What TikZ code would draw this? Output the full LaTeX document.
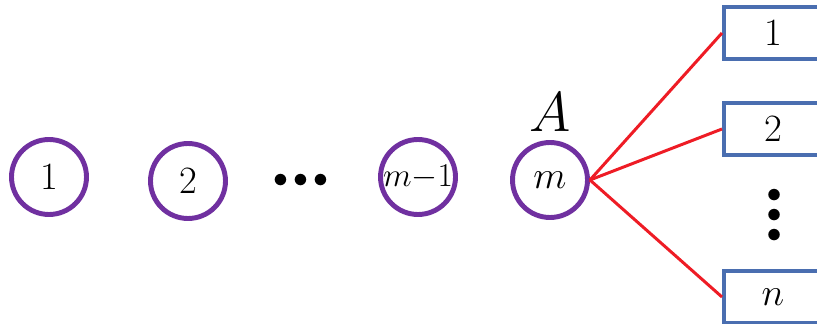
\documentclass[tikz,border=0pt]{standalone}
\usepackage{fix-cm}
\usepackage{tikz}
\usetikzlibrary{positioning}
\definecolor{vio}{HTML}{7030A0}
\definecolor{boxblue}{HTML}{4A6EB0}
\definecolor{edgered}{HTML}{EE1C25}

\begin{document}
\begin{tikzpicture}[
  x=0.02cm, y=-0.02cm,
  every node/.style={font=\fontsize{22}{24}\selectfont},
  vert/.style={circle, draw=vio, line width=2.8pt, inner sep=0pt, minimum size=1.5cm},
  slot/.style={rectangle, draw=boxblue, line width=2.3pt, inner sep=0pt, minimum width=1.96cm, minimum height=1.04cm},
  edge/.style={edgered, line width=1.7pt},
  dotsty/.style={inner sep=0pt, font=\fontsize{17}{10}\selectfont},
]
  \useasboundingbox (0,0) rectangle (817,324);
  \node[vert] (v1)  at (49,177)  {$1$};
  \node[vert] (v2)  at (188,181) {$2$};
  \node[dotsty] (hdots) at (301,181) {${\bullet}\mkern3mu{\bullet}\mkern3mu{\bullet}$};
  \node[vert, font=\fontsize{19}{21}\selectfont] (vm1) at (418,177) {$m{-}1$};
  \node[vert] (vm)  at (550,180) {$m$};
  \node[font=\fontsize{32}{34}\selectfont] (lblA) at (550,112) {$A$};
  \node[slot] (b1) at (773,33)  {$1$};
  \node[slot] (b2) at (773,129) {$2$};
  \node[dotsty, rotate=90] (vdots) at (775,215) {${\bullet}\mkern3mu{\bullet}\mkern3mu{\bullet}$};
  \node[slot] (bn) at (773,297) {$n$};
  \foreach \b in {b1,b2,bn}\draw[edge] (vm.east) -- (\b.west);
\end{tikzpicture}
\end{document}
